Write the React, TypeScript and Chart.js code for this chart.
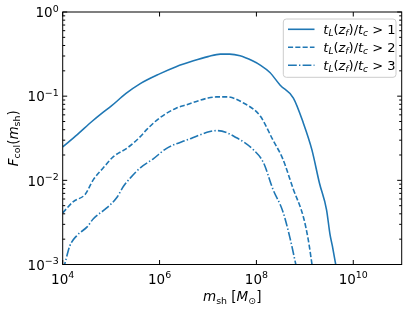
import React, { useEffect, useRef } from "react";
import { Chart, registerables } from "chart.js";

Chart.register(...registerables);

// ---- data ----
const massGt1 = [1e4, 2.0e4, 4.0e4, 6.3e4, 1e5, 2.0e5, 4.0e5, 1e6, 2.2e6, 5.0e6, 1e7, 1.8e7, 2.8e7, 4.6e7, 8.3e7, 1.2e8, 1.9e8, 3.1e8, 5.8e8, 9.3e8, 1.4e9, 2.0e9, 2.8e9, 3.3e9, 3.7e9, 4.5e9];
const fcolGt1 = [0.025, 0.035, 0.05, 0.062, 0.076, 0.107, 0.141, 0.184, 0.224, 0.263, 0.295, 0.316, 0.316, 0.302, 0.263, 0.234, 0.191, 0.135, 0.095, 0.048, 0.023, 0.0093, 0.0045, 0.0023, 0.00166, 0.00089];

const massGt2 = [1e4, 1.66e4, 2.9e4, 4.3e4, 6.9e4, 1.1e5, 2.1e5, 4.0e5, 5.4e5, 1.0e6, 2.2e6, 3.6e6, 1e7, 1.5e7, 2.5e7, 5.4e7, 1.2e8, 2.2e8, 3.5e8, 5.8e8, 9.3e8, 1.17e9, 1.45e9];
const fcolGt2 = [0.0041, 0.0056, 0.0068, 0.0102, 0.0141, 0.019, 0.024, 0.033, 0.04, 0.055, 0.072, 0.079, 0.095, 0.098, 0.098, 0.083, 0.058, 0.03, 0.018, 0.0078, 0.0037, 0.002, 0.00089];

const massGt3 = [1.0e4, 1.12e4, 1.4e4, 1.95e4, 3.2e4, 4.3e4, 8.1e4, 1.3e5, 1.8e5, 2.5e5, 4.0e5, 7.4e5, 1.4e6, 3.6e6, 1.1e7, 1.6e7, 3.9e7, 8.7e7, 1.4e8, 2.2e8, 3.5e8, 4.9e8, 6.8e8];
const fcolGt3 = [0.00085, 0.00105, 0.00166, 0.0022, 0.0028, 0.0035, 0.0047, 0.0062, 0.0085, 0.0107, 0.0141, 0.018, 0.024, 0.03, 0.038, 0.039, 0.032, 0.023, 0.0162, 0.0078, 0.0043, 0.0021, 0.00089];

const legendThresholds = ["1", "2", "3"];
const xTickValues = [1e4, 1e6, 1e8, 1e10];
const xTickExps = ["4", "6", "8", "10"];
const yTickValues = [1e-3, 1e-2, 1e-1, 1];
const yTickExps = ["\u22123", "\u22122", "\u22121", "0"];
const yMinorDecades = [1e-3, 1e-2, 1e-1];
const yMinorMultipliers = [2, 3, 4, 5, 6, 7, 8, 9];

const COLOR = "#1f77b4";
const FONT = '"DejaVu Sans"';
const DASHES: number[][] = [[], [5.1, 2.2], [8.8, 2.2, 1.4, 2.2]];

type Seg = { t: string; it?: boolean; sub?: boolean; sup?: boolean };

function segFont(s: Seg, size: number) {
  const sz = s.sub || s.sup ? size * 0.7 : size;
  return `${s.it ? "italic " : ""}${sz}px ${FONT}`;
}
function measureSegs(ctx: CanvasRenderingContext2D, segs: Seg[], size: number) {
  let w = 0;
  for (const s of segs) {
    ctx.font = segFont(s, size);
    w += ctx.measureText(s.t).width;
  }
  return w;
}
function drawSegs(ctx: CanvasRenderingContext2D, segs: Seg[], x: number, base: number, size: number) {
  ctx.textAlign = "left";
  ctx.textBaseline = "alphabetic";
  for (const s of segs) {
    ctx.font = segFont(s, size);
    const dy = s.sub ? size * 0.2 : s.sup ? -size * 0.42 : 0;
    ctx.fillText(s.t, x, base + dy);
    x += ctx.measureText(s.t).width;
  }
}

const decorPlugin = {
  id: "decor",
  afterDatasetsDraw(chart: any) {
    const ctx: CanvasRenderingContext2D = chart.ctx;
    const a = chart.chartArea;
    const xs = chart.scales.x;
    const ys = chart.scales.y;
    const size = 13.5;
    ctx.save();
    // frame
    ctx.strokeStyle = "#000";
    ctx.lineWidth = 1;
    ctx.strokeRect(a.left, a.top, a.right - a.left, a.bottom - a.top);
    // ticks (inward on all sides)
    ctx.beginPath();
    for (const v of xTickValues) {
      const px = xs.getPixelForValue(v);
      ctx.moveTo(px, a.bottom);
      ctx.lineTo(px, a.bottom - 4.5);
      ctx.moveTo(px, a.top);
      ctx.lineTo(px, a.top + 4.5);
    }
    for (const v of yTickValues) {
      const py = ys.getPixelForValue(v);
      ctx.moveTo(a.left, py);
      ctx.lineTo(a.left + 4.5, py);
      ctx.moveTo(a.right, py);
      ctx.lineTo(a.right - 4.5, py);
    }
    for (const d of yMinorDecades) {
      for (const k of yMinorMultipliers) {
        const py = ys.getPixelForValue(k * d);
        ctx.moveTo(a.left, py);
        ctx.lineTo(a.left + 2.5, py);
        ctx.moveTo(a.right, py);
        ctx.lineTo(a.right - 2.5, py);
      }
    }
    ctx.stroke();

    ctx.fillStyle = "#000";
    // x tick labels
    xTickValues.forEach((v, i) => {
      const segs: Seg[] = [{ t: "10" }, { t: xTickExps[i], sup: true }];
      const w = measureSegs(ctx, segs, size);
      const px = xs.getPixelForValue(v);
      drawSegs(ctx, segs, px - w / 2, a.bottom + 19.5, size);
    });
    // y tick labels
    yTickValues.forEach((v, i) => {
      const segs: Seg[] = [{ t: "10" }, { t: yTickExps[i], sup: true }];
      const w = measureSegs(ctx, segs, size);
      const py = ys.getPixelForValue(v);
      drawSegs(ctx, segs, a.left - 4 - w, py + 5.3, size);
    });
    // x title
    const xt: Seg[] = [
      { t: "m", it: true },
      { t: "sh", sub: true },
      { t: " [" },
      { t: "M", it: true },
      { t: "\u2299", sub: true },
      { t: "]" },
    ];
    const xw = measureSegs(ctx, xt, size);
    drawSegs(ctx, xt, (a.left + a.right) / 2 - xw / 2, 301, size);
    // y title
    const yt: Seg[] = [
      { t: "F", it: true },
      { t: "col", sub: true },
      { t: "(" },
      { t: "m", it: true },
      { t: "sh", sub: true },
      { t: ")" },
    ];
    const yw = measureSegs(ctx, yt, size);
    ctx.save();
    ctx.translate(17.5, (a.top + a.bottom) / 2);
    ctx.rotate(-Math.PI / 2);
    drawSegs(ctx, yt, -yw / 2, 0, size);
    ctx.restore();

    // legend
    const lx = 283.3, ly = 19, lw = 112.7, lh = 58.3, r = 3;
    ctx.beginPath();
    ctx.moveTo(lx + r, ly);
    ctx.lineTo(lx + lw - r, ly);
    ctx.arcTo(lx + lw, ly, lx + lw, ly + r, r);
    ctx.lineTo(lx + lw, ly + lh - r);
    ctx.arcTo(lx + lw, ly + lh, lx + lw - r, ly + lh, r);
    ctx.lineTo(lx + r, ly + lh);
    ctx.arcTo(lx, ly + lh, lx, ly + lh - r, r);
    ctx.lineTo(lx, ly + r);
    ctx.arcTo(lx, ly, lx + r, ly, r);
    ctx.closePath();
    ctx.fillStyle = "rgba(255,255,255,0.8)";
    ctx.fill();
    ctx.strokeStyle = "#cccccc";
    ctx.lineWidth = 1;
    ctx.stroke();
    legendThresholds.forEach((th, i) => {
      const cy = 29.3 + i * 18;
      ctx.strokeStyle = COLOR;
      ctx.lineWidth = 1.6;
      ctx.setLineDash(DASHES[i]);
      ctx.beginPath();
      ctx.moveTo(288, cy);
      ctx.lineTo(314.5, cy);
      ctx.stroke();
      ctx.setLineDash([]);
      ctx.fillStyle = "#000";
      const segs: Seg[] = [
        { t: "t", it: true },
        { t: "L", it: true, sub: true },
        { t: "(" },
        { t: "z", it: true },
        { t: "f", it: true, sub: true },
        { t: ")/" },
        { t: "t", it: true },
        { t: "c", it: true, sub: true },
        { t: " > " + th },
      ];
      drawSegs(ctx, segs, 323.3, cy + 4.3, 13);
    });
    ctx.restore();
  },
};

export default function App() {
  const ref = useRef<HTMLCanvasElement | null>(null);
  useEffect(() => {
    if (!ref.current) return;
    const mk = (xs: number[], ys: number[]) => xs.map((x, i) => ({ x, y: ys[i] }));
    const series = [
      { data: mk(massGt1, fcolGt1), dash: DASHES[0] },
      { data: mk(massGt2, fcolGt2), dash: DASHES[1] },
      { data: mk(massGt3, fcolGt3), dash: DASHES[2] },
    ];
    const chart = new Chart(ref.current, {
      type: "line",
      data: {
        datasets: series.map((s, i) => ({
          label: "t_L(z_f)/t_c > " + legendThresholds[i],
          data: s.data,
          borderColor: COLOR,
          backgroundColor: COLOR,
          borderWidth: 1.6,
          borderDash: s.dash,
          pointRadius: 0,
          cubicInterpolationMode: "monotone",
          fill: false,
          clip: 0,
        })),
      },
      options: {
        animation: false,
        responsive: false,
        maintainAspectRatio: false,
        devicePixelRatio: 1,
        layout: { padding: { top: 12, right: 7.3, left: 0, bottom: 0 } },
        plugins: { legend: { display: false }, tooltip: { enabled: false } },
        scales: {
          x: {
            type: "logarithmic",
            min: 1e4,
            max: 1e11,
            grid: { display: false },
            border: { display: false },
            ticks: { display: false },
            afterFit: (s: any) => {
              s.height = 47.5;
            },
          },
          y: {
            type: "logarithmic",
            min: 1e-3,
            max: 1,
            grid: { display: false },
            border: { display: false },
            ticks: { display: false },
            afterFit: (s: any) => {
              s.width = 62.7;
            },
          },
        },
      } as any,
      plugins: [decorPlugin],
    });
    return () => chart.destroy();
  }, []);
  return (
    <div style={{ position: "absolute", left: 0, top: 0, width: 409, height: 312, background: "#fff" }}>
      <canvas ref={ref} width={409} height={312} style={{ display: "block", width: 409, height: 312 }} />
    </div>
  );
}
